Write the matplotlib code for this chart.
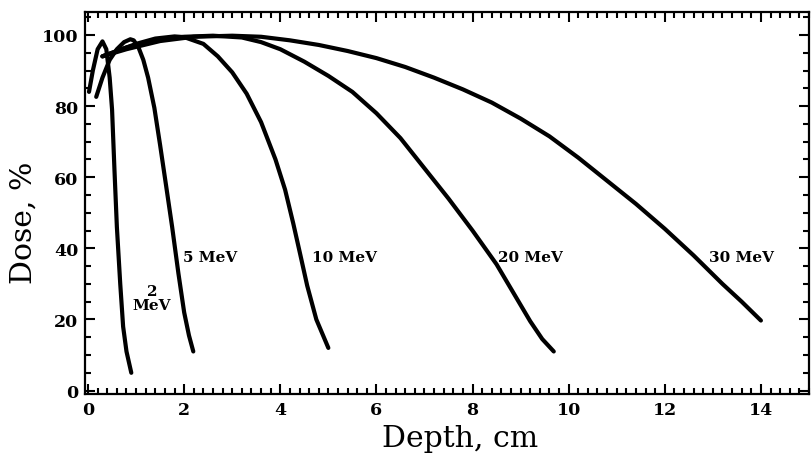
import matplotlib.pyplot as plt
from matplotlib.ticker import MultipleLocator

# depth-dose curves (depth in cm, dose in %)
e2_x = [0.02, 0.1, 0.2, 0.3, 0.38, 0.45, 0.5, 0.55, 0.6, 0.67, 0.73, 0.8, 0.9]
e2_y = [84, 90, 96, 98.2, 96, 88, 79, 62, 46, 30, 18, 11, 5]

e5_x = [0.17, 0.3, 0.45, 0.6, 0.75, 0.88, 0.95, 1.05, 1.15, 1.25, 1.38, 1.5, 1.62, 1.75,
        1.88, 2.0, 2.1, 2.19]
e5_y = [82.6, 88, 93, 96, 98, 98.8, 98.5, 96.5, 93, 88, 79.5, 69, 58, 46, 33, 22, 15.5, 11]

e10_x = [0.3, 0.6, 1.0, 1.4, 1.8, 2.0, 2.4, 2.7, 3.0, 3.3, 3.6, 3.9, 4.1, 4.27, 4.42, 4.56,
         4.75, 5.0]
e10_y = [94, 95.5, 97.5, 99, 99.6, 99.4, 97.5, 94, 89.5, 83.5, 75.5, 65, 56.5, 47, 38, 29.5,
         20, 12]

e20_x = [0.3, 0.8, 1.4, 2.0, 2.6, 3.2, 3.6, 4.0, 4.5, 5.0, 5.5, 6.0, 6.5, 7.0, 7.5, 8.0,
         8.5, 8.85, 9.2, 9.45, 9.69]
e20_y = [94, 96.5, 98.5, 99.5, 99.8, 99.3, 98, 96, 92.5, 88.5, 84, 78, 71, 62.5, 54, 45,
         35.5, 27.5, 19.5, 14.5, 11]

e30_x = [0.3, 0.8, 1.5, 2.2, 3.0, 3.6, 4.2, 4.8, 5.4, 6.0, 6.6, 7.2, 7.8, 8.4, 9.0, 9.6,
         10.2, 10.8, 11.4, 12.0, 12.6, 13.2, 13.6, 14.0]
e30_y = [94, 96, 98.3, 99.5, 99.8, 99.5, 98.5, 97.2, 95.5, 93.5, 91, 88, 84.7, 81, 76.5, 71.5,
         65.5, 59, 52.5, 45.5, 38, 30, 25, 19.7]

curves = [(e2_x, e2_y), (e5_x, e5_y), (e10_x, e10_y), (e20_x, e20_y), (e30_x, e30_y)]

labels = ["2\nMeV", "5 MeV", "10 MeV", "20 MeV", "30 MeV"]
label_x = [1.33, 1.98, 4.67, 8.54, 12.92]
label_y = [26.0, 37.6, 37.6, 37.6, 37.6]

plt.rcParams['font.family'] = 'DejaVu Serif'

fig = plt.figure(figsize=(8.11, 4.60), dpi=100)
ax = fig.add_axes([0.105, 0.141, 0.8925, 0.831])

for x, y in curves:
    ax.plot(x, y, color='black', lw=3.0, solid_capstyle='round', solid_joinstyle='round')

for i, txt in enumerate(labels):
    if '\n' in txt:
        ax.text(label_x[i], label_y[i], txt, ha='center', va='center', fontsize=11,
                fontweight='bold', linespacing=1.05)
    else:
        ax.text(label_x[i], label_y[i], txt, ha='left', va='center', fontsize=11,
                fontweight='bold')

ax.set_xlim(-0.06, 15.0)
ax.set_ylim(-1, 106.5)
ax.xaxis.set_major_locator(MultipleLocator(2))
ax.xaxis.set_minor_locator(MultipleLocator(0.2))
ax.yaxis.set_major_locator(MultipleLocator(20))
ax.yaxis.set_minor_locator(MultipleLocator(5))
ax.tick_params(which='both', direction='in', top=True, right=True, width=1.5)
ax.tick_params(which='major', length=7, labelsize=12.5, pad=5)
ax.tick_params(which='minor', length=4)
for lab in ax.get_xticklabels() + ax.get_yticklabels():
    lab.set_fontweight('bold')
for s in ax.spines.values():
    s.set_linewidth(1.6)

ax.set_xlabel("Depth, cm", fontsize=21.5)
ax.set_ylabel("Dose, %", fontsize=21.5)
ax.xaxis.set_label_coords(0.518, -0.078)
ax.yaxis.set_label_coords(-0.066, 0.45)

fig.savefig("out.png", dpi=100)
